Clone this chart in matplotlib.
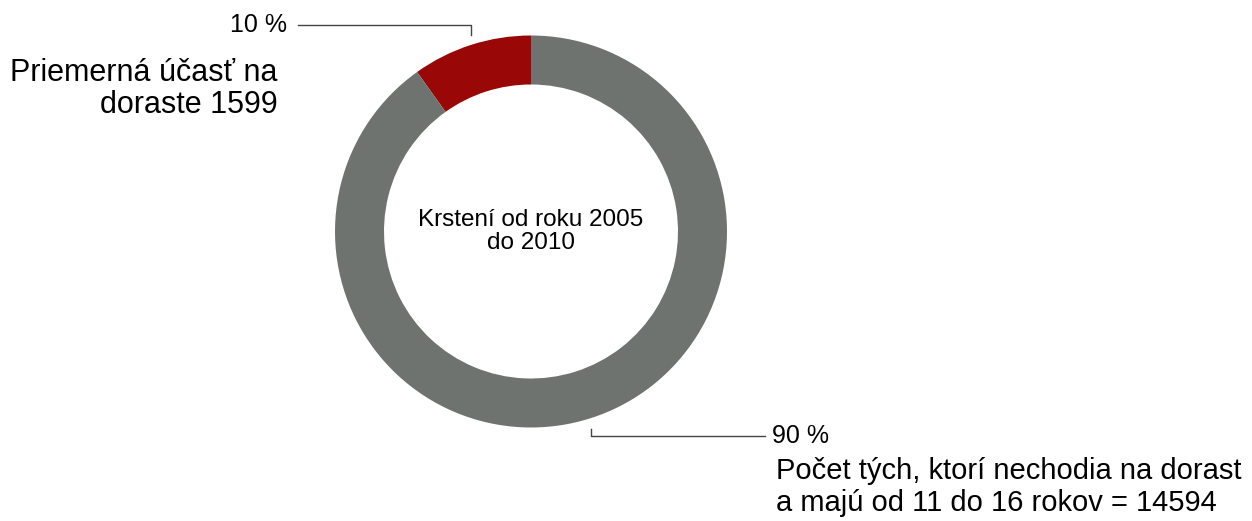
import numpy as np
import matplotlib.pyplot as plt

plt.rcParams['font.family'] = ['Liberation Sans', 'DejaVu Sans']

labels = ['Priemerná účasť na\ndoraste 1599',
          'Počet tých, ktorí nechodia na dorast\na majú od 11 do 16 rokov = 14594']
values = [1599, 14594]
colors = ['#990706', '#6e7370']
center_text = 'Krstení od roku 2005\ndo 2010'


def main():
    W, H = 1252, 521
    fig = plt.figure(figsize=(W / 100, H / 100), dpi=100)
    ax = fig.add_axes([0, 0, 1, 1])

    cx, cy, r = 531, H - 231.5, 196
    wedges, _ = ax.pie(values, colors=colors, startangle=90, counterclock=True,
                       center=(cx, cy), radius=r,
                       wedgeprops=dict(width=49, linewidth=0))
    ax.set_xlim(0, W)
    ax.set_ylim(0, H)
    ax.set_aspect('equal')
    ax.axis('off')

    ax.text(cx, cy, center_text, ha='center', va='center', fontsize=17.5,
            linespacing=1.1)

    pct = [round(100 * v / sum(values)) for v in values]

    # leader for the red wedge (goes up, then left)
    w = wedges[0]
    mid = np.deg2rad((w.theta1 + w.theta2) / 2)
    lx = cx + r * np.cos(mid)
    y_top = cy + r + 1
    y_line = H - 25
    ax.plot([lx, lx, 298], [y_top, y_line, y_line], color='#444444', lw=1)
    ax.text(287, y_line, f'{pct[0]} %', ha='right', va='center', fontsize=18)
    ax.text(278, H - 89, labels[0], ha='right', va='center', fontsize=22,
            linespacing=1.08)

    # leader for the grey wedge (goes down, then right)
    w = wedges[1]
    mid = np.deg2rad((w.theta1 + w.theta2) / 2)
    lx = cx + r * np.cos(mid)
    y_bot = cy - r - 1
    y_line = H - 436
    ax.plot([lx, lx, 765], [y_bot, y_line, y_line], color='#444444', lw=1)
    ax.text(772, y_line, f'{pct[1]} %', ha='left', va='center', fontsize=18)
    ax.text(776, H - 487, labels[1], ha='left', va='center', fontsize=21,
            linespacing=1.18)

    fig.savefig('out.png', dpi=100)


if __name__ == "__main__":
    main()
